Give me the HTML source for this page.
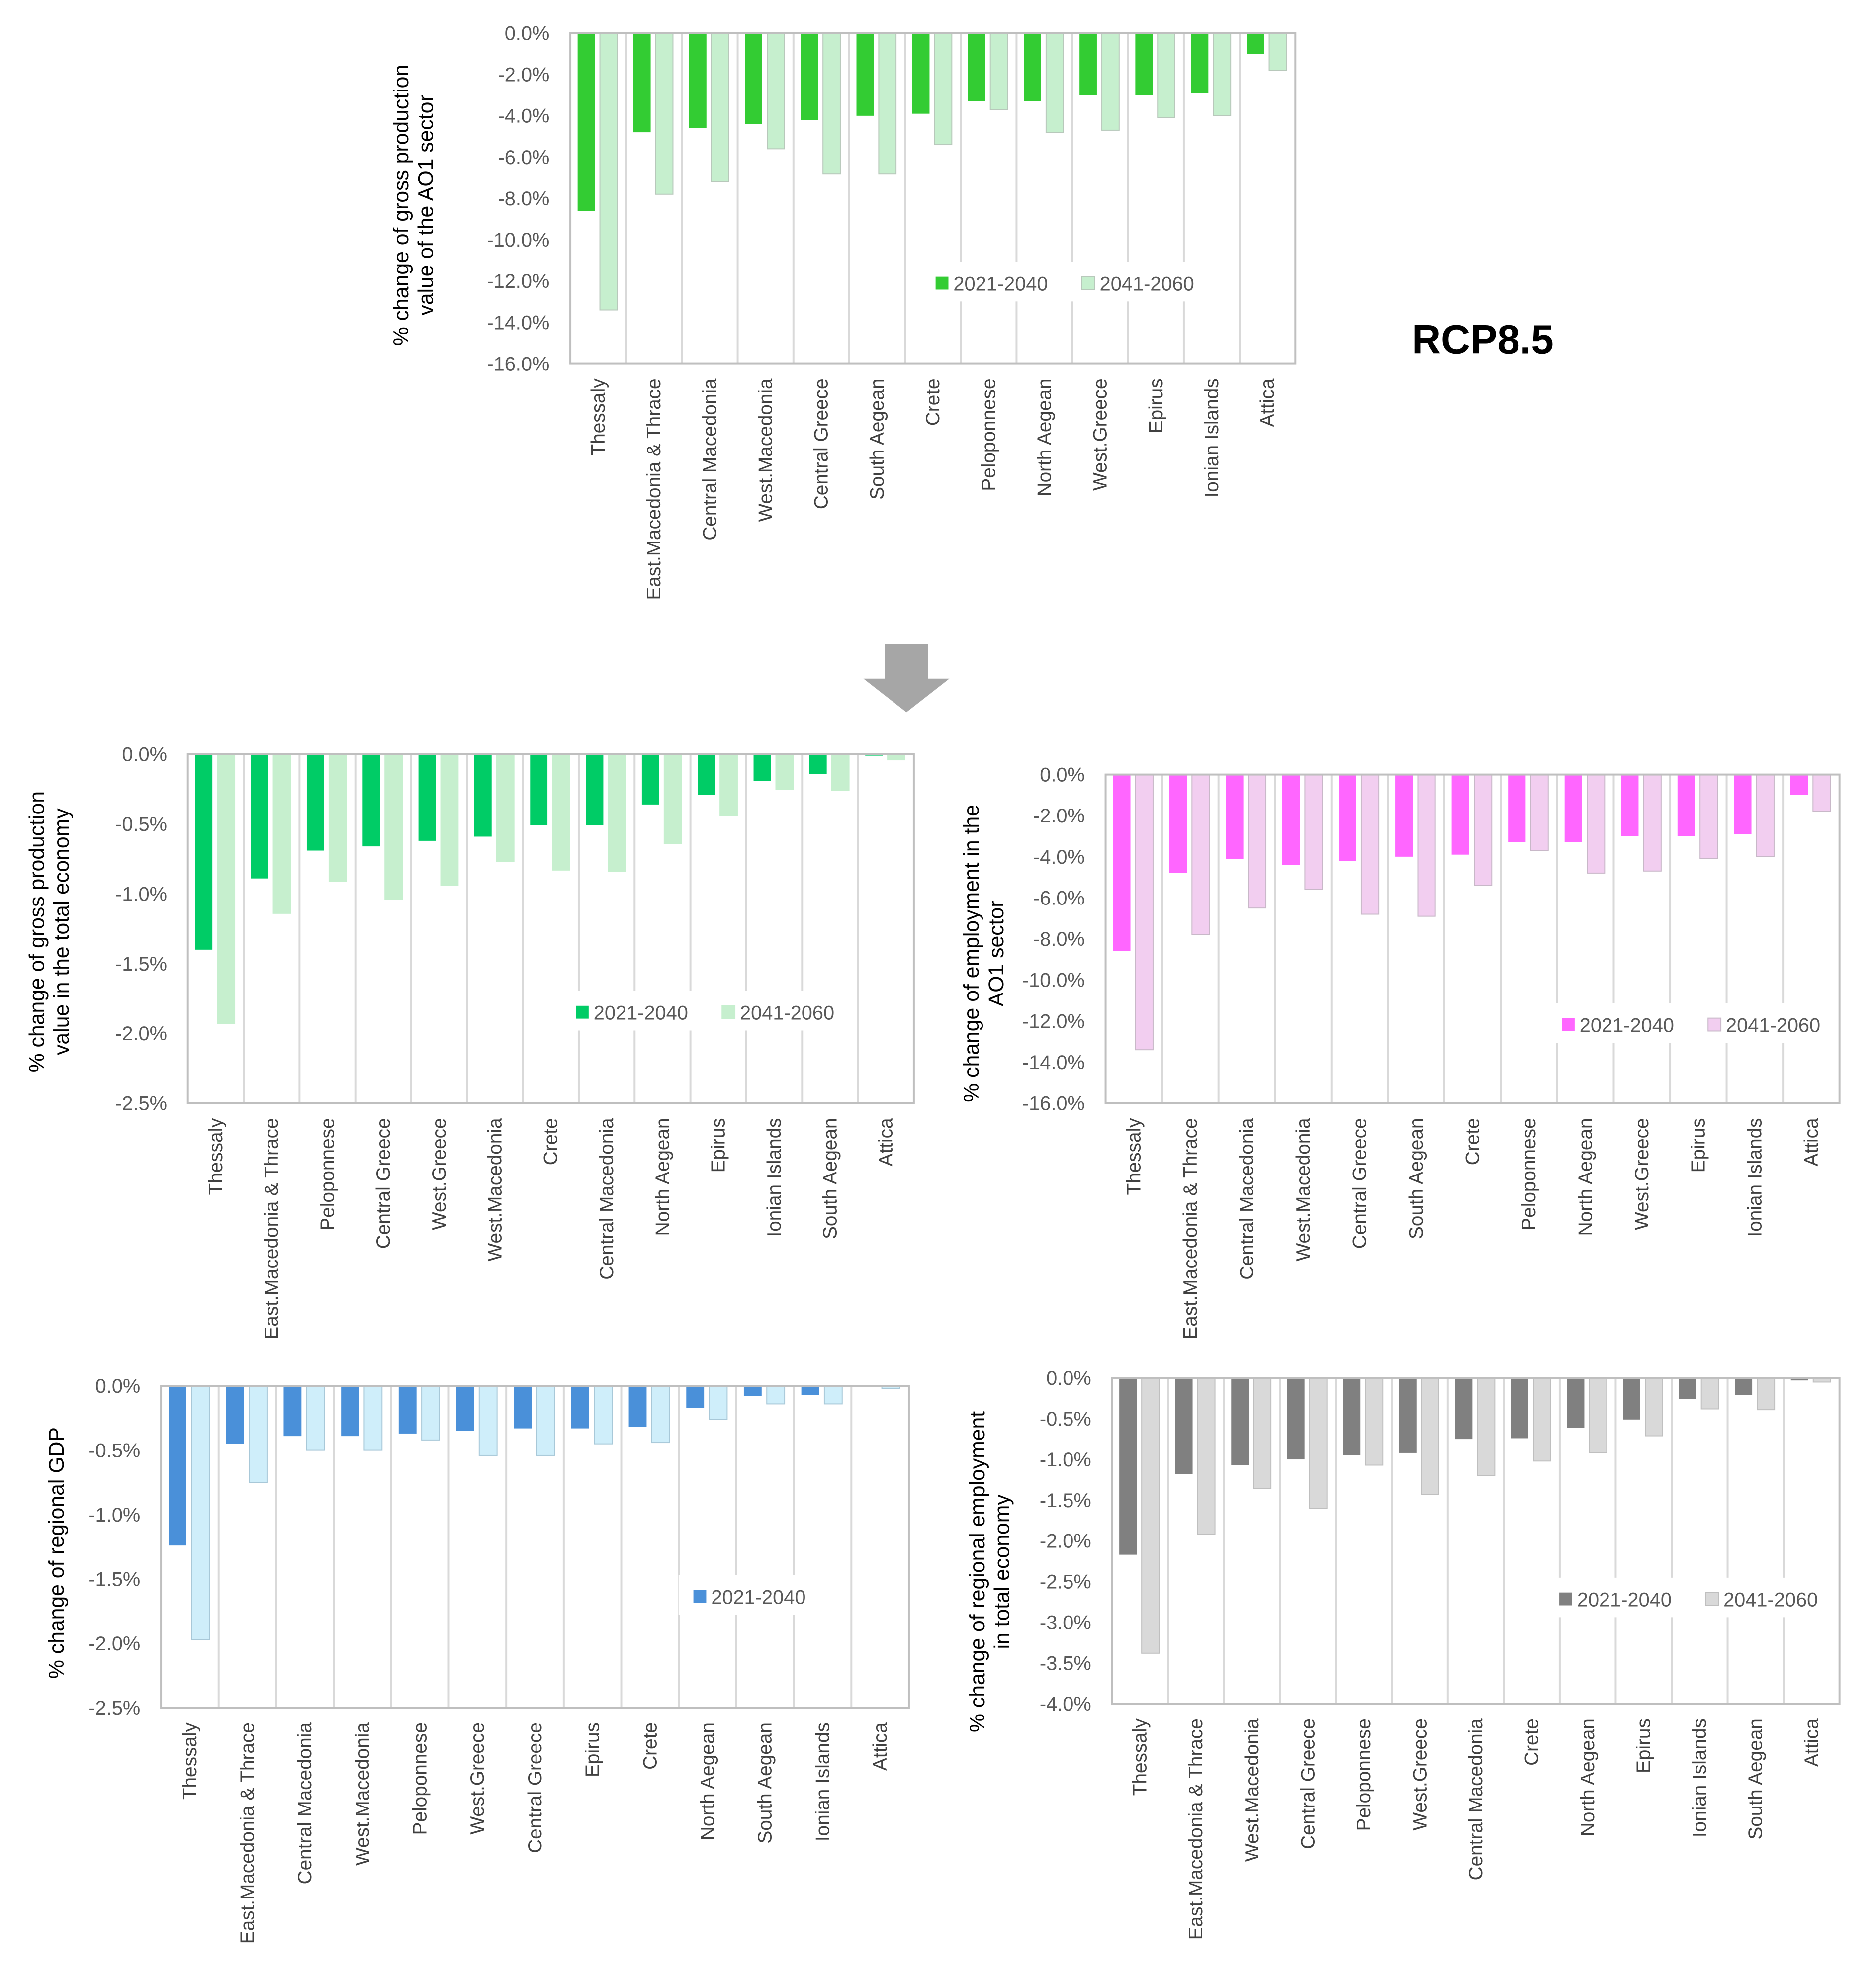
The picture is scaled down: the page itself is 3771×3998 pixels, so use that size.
<!DOCTYPE html>
<html><head><meta charset="utf-8"><style>
html,body{margin:0;padding:0;background:#fff;}
svg{display:block;font-family:"Liberation Sans",sans-serif;}
</style></head><body>
<svg width="3771" height="3998" viewBox="0 0 3771 3998">
<g id="root" transform="scale(0.994)">
<text x="3000" y="715" font-size="82" font-weight="bold" text-anchor="middle" fill="#000">RCP8.5</text>
<polygon points="1790,1303 1878,1303 1878,1373 1921,1373 1834,1441 1747,1373 1790,1373" fill="#a6a6a6"/>
</g>
</svg>
<script>
const cats1=["Thessaly","East.Macedonia & Thrace","Central Macedonia","West.Macedonia","Central Greece","South Aegean","Crete","Peloponnese","North Aegean","West.Greece","Epirus","Ionian Islands","Attica"];
const a1=[-8.6,-4.8,-4.6,-4.4,-4.2,-4.0,-3.9,-3.3,-3.3,-3.0,-3.0,-2.9,-1.0];
const b1=[-13.4,-7.8,-7.2,-5.6,-6.8,-6.8,-5.4,-3.7,-4.8,-4.7,-4.1,-4.0,-1.8];
const ticks1=["0.0%","-2.0%","-4.0%","-6.0%","-8.0%","-10.0%","-12.0%","-14.0%","-16.0%"];
const cats2=["Thessaly","East.Macedonia & Thrace","Peloponnese","Central Greece","West.Greece","West.Macedonia","Crete","Central Macedonia","North Aegean","Epirus","Ionian Islands","South Aegean","Attica"];
const a2=[-1.40,-0.89,-0.69,-0.66,-0.62,-0.59,-0.51,-0.51,-0.36,-0.29,-0.19,-0.14,-0.01];
const b2=[-1.93,-1.14,-0.91,-1.04,-0.94,-0.77,-0.83,-0.84,-0.64,-0.44,-0.25,-0.26,-0.04];
const ticks2=["0.0%","-0.5%","-1.0%","-1.5%","-2.0%","-2.5%"];
const cats3=["Thessaly","East.Macedonia & Thrace","Central Macedonia","West.Macedonia","Central Greece","South Aegean","Crete","Peloponnese","North Aegean","West.Greece","Epirus","Ionian Islands","Attica"];
const a3=[-8.6,-4.8,-4.1,-4.4,-4.2,-4.0,-3.9,-3.3,-3.3,-3.0,-3.0,-2.9,-1.0];
const b3=[-13.4,-7.8,-6.5,-5.6,-6.8,-6.9,-5.4,-3.7,-4.8,-4.7,-4.1,-4.0,-1.8];
const ticks3=["0.0%","-2.0%","-4.0%","-6.0%","-8.0%","-10.0%","-12.0%","-14.0%","-16.0%"];
const cats4=["Thessaly","East.Macedonia & Thrace","Central Macedonia","West.Macedonia","Peloponnese","West.Greece","Central Greece","Epirus","Crete","North Aegean","South Aegean","Ionian Islands","Attica"];
const a4=[-1.24,-0.45,-0.39,-0.39,-0.37,-0.35,-0.33,-0.33,-0.32,-0.17,-0.08,-0.07,-0.005];
const b4=[-1.97,-0.75,-0.50,-0.50,-0.42,-0.54,-0.54,-0.45,-0.44,-0.26,-0.14,-0.14,-0.02];
const ticks4=["0.0%","-0.5%","-1.0%","-1.5%","-2.0%","-2.5%"];
const cats5=["Thessaly","East.Macedonia & Thrace","West.Macedonia","Central Greece","Peloponnese","West.Greece","Central Macedonia","Crete","North Aegean","Epirus","Ionian Islands","South Aegean","Attica"];
const a5=[-2.17,-1.18,-1.07,-1.00,-0.95,-0.92,-0.75,-0.74,-0.61,-0.51,-0.26,-0.21,-0.03];
const b5=[-3.38,-1.92,-1.36,-1.60,-1.07,-1.43,-1.20,-1.02,-0.92,-0.71,-0.38,-0.39,-0.05];
const ticks5=["0.0%","-0.5%","-1.0%","-1.5%","-2.0%","-2.5%","-3.0%","-3.5%","-4.0%"];

const NS="http://www.w3.org/2000/svg";
const root=document.getElementById('root');
function mk(tag,attrs,parent){const e=document.createElementNS(NS,tag);for(const k in attrs)e.setAttribute(k,attrs[k]);(parent||root).appendChild(e);return e;}

function chart(o){
  const g=mk('g',{});
  
  
  const n=o.cats.length, cw=(o.x1-o.x0)/n;
  const y=v=>o.y0+(o.y1-o.y0)*(v/o.min);
  for(let i=1;i<n;i++){
    const gl=mk('line',{x1:o.x0+i*cw,x2:o.x0+i*cw,y1:o.y0,y2:o.y1,stroke:'#d9d9d9','stroke-width':4},g);
    
    
  }
  for(let i=0;i<n;i++){
    const xa=o.x0+i*cw+cw*0.13, xb=o.x0+i*cw+cw*0.53, w=cw*0.31;
    const r1=mk('rect',{x:xa,y:o.y0,width:w,height:y(o.a[i])-o.y0,fill:o.c1},g);
    
    
    const r2=mk('rect',{x:xb,y:o.y0,width:w,height:y(o.b[i])-o.y0,fill:o.c2,stroke:o.s2,'stroke-width':2},g);
    
    
  }
  const lg=mk('g',{},g);
  
  
  const lw=o.single?280:580;
  mk('rect',{x:o.lx-30,y:o.ly-50,width:lw,height:80,fill:'#fff'},lg);
  mk('rect',{x:o.lx,y:o.ly-20,width:26,height:26,fill:o.c1},lg);
  const t1=mk('text',{x:o.lx+36,y:o.ly+8,'font-size':40,fill:'#595959'},lg);t1.textContent='2021-2040';
  
  
  if(!o.single){
    mk('rect',{x:o.lx+296,y:o.ly-20,width:26,height:26,fill:o.c2,stroke:o.s2,'stroke-width':2},lg);
    const t2=mk('text',{x:o.lx+332,y:o.ly+8,'font-size':40,fill:'#595959'},lg);t2.textContent='2041-2060';
    
    
  }
  const fr=mk('rect',{x:o.x0,y:o.y0,width:o.x1-o.x0,height:o.y1-o.y0,fill:'none',stroke:'#bfbfbf','stroke-width':4},g);
  
  
  for(let i=0;i<o.ticks.length;i++){
    const yy=o.y0+(o.y1-o.y0)*i/(o.ticks.length-1);
    const t=mk('text',{x:o.x0-42,y:yy+14,'font-size':40,fill:'#595959','text-anchor':'end'},g);
    t.textContent=o.ticks[i];
    
    
  }
  for(let i=0;i<n;i++){
    const cx=o.x0+i*cw+cw*0.5+13, ty=o.y1+30;
    const t=mk('text',{x:cx,y:ty,'font-size':39,fill:'#404040','text-anchor':'end',transform:`rotate(-90 ${cx} ${ty})`},g);
    t.textContent=o.cats[i];
    
    
  }
  const tt=mk('text',{x:o.tx,y:o.ty,'font-size':43,fill:'#000','text-anchor':'middle',transform:`rotate(-90 ${o.tx} ${o.ty})`},g);
  
  
  o.title.forEach((s,k)=>{const sp=mk('tspan',{x:o.tx,dy:k===0?(o.title.length>1?-8:14):50},tt);sp.textContent=s;});
}

chart({name:'chart-ao1-production',cats:cats1,a:a1,b:b1,ticks:ticks1,min:-16,x0:1154,x1:2621,y0:67,y1:736,c1:'#33cc33',c2:'#c6efce',s2:'#b8c8bb',lx:1893,ly:580,tx:834,ty:415,title:['% change of gross production','value of the AO1 sector']});
chart({name:'chart-total-production',cats:cats2,a:a2,b:b2,ticks:ticks2,min:-2.5,x0:380,x1:1849,y0:1526,y1:2232,c1:'#00cc66',c2:'#c6efce',s2:'#c6efce',lx:1165,ly:2055,tx:97,ty:1885,title:['% change of gross production','value in the total economy']});
chart({name:'chart-ao1-employment',cats:cats3,a:a3,b:b3,ticks:ticks3,min:-16,x0:2237,x1:3722,y0:1567,y1:2232,c1:'#ff66ff',c2:'#f2cef0',s2:'#c8b8c8',lx:3160,ly:2080,tx:1988,ty:1929,title:['% change of employment in the','AO1 sector']});
chart({name:'chart-regional-gdp',cats:cats4,a:a4,b:b4,ticks:ticks4,min:-2.5,x0:326,x1:1839,y0:2804,y1:3455,c1:'#4a90d9',c2:'#cfeefa',s2:'#a8c8d8',lx:1403,ly:3237,single:true,tx:115,ty:3142,title:['% change of regional GDP']});
chart({name:'chart-regional-employment',cats:cats5,a:a5,b:b5,ticks:ticks5,min:-4,x0:2250,x1:3722,y0:2788,y1:3447,c1:'#808080',c2:'#d9d9d9',s2:'#bfbfbf',lx:3155,ly:3242,tx:2000,ty:3180,title:['% change of regional employment','in total economy']});
</script>
</body></html>
